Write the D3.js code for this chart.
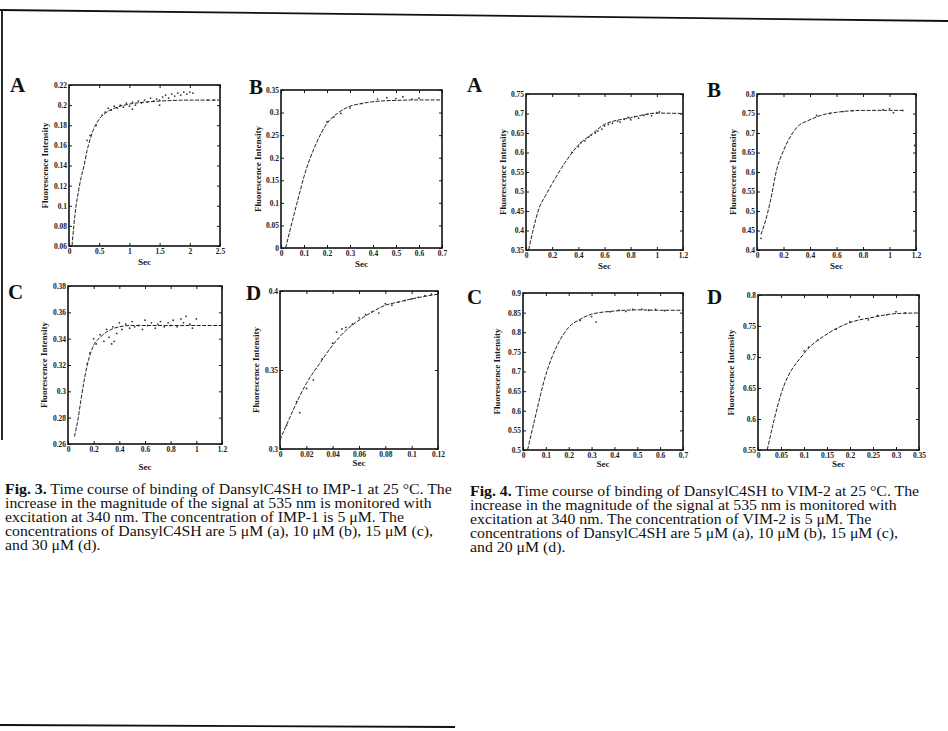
<!DOCTYPE html>
<html>
<head>
<meta charset="utf-8">
<script src="https://d3js.org/d3.v7.min.js"></script>
<style>
  body { margin: 0; background: #fff; }
  svg { display: block; }
  .tick text { font-family: "Liberation Serif", serif; font-size: 7.5px; font-weight: bold; fill: #1a1a1a; }
  .tick line { stroke: #1a1a1a; stroke-width: 1; }
  .frame { fill: none; stroke: #111; stroke-width: 1.6; }
  .fit { fill: none; stroke: #222; stroke-width: 1; stroke-dasharray: 4 1.5; }
  .pt { fill: #333; }
  .letter { font-family: "Liberation Serif", serif; font-size: 21px; font-weight: bold; fill: #111; }
  .axlab { font-family: "Liberation Serif", serif; font-size: 9px; font-weight: bold; fill: #1a1a1a; }
  .cap { font-family: "Liberation Serif", serif; font-size: 14px; fill: #111; }
  .border { stroke: #111; stroke-width: 1.8; fill: none; }
</style>
</head>
<body>
<svg id="page" width="948" height="731"></svg>
<script>
// ---- Fig. 3, IMP-1 ----
var impA_fit = [[0.05,0.06],[0.08,0.08],[0.1,0.092],[0.15,0.112],[0.2,0.128],[0.25,0.14],[0.3,0.155],[0.35,0.166],[0.4,0.175],[0.5,0.186],[0.6,0.192],[0.8,0.198],[1.0,0.201],[1.25,0.203],[1.5,0.204],[2.0,0.205],[2.5,0.205]];
var impA_pts = [[0.3,0.165],[0.35,0.17],[0.45,0.18],[0.55,0.19],[0.6,0.193],[0.65,0.197],[0.7,0.195],[0.75,0.199],[0.8,0.197],[0.85,0.2],[0.9,0.198],[0.95,0.202],[1.0,0.199],[1.05,0.203],[1.05,0.196],[1.1,0.2],[1.15,0.204],[1.2,0.202],[1.25,0.205],[1.3,0.203],[1.35,0.207],[1.4,0.204],[1.45,0.206],[1.5,0.205],[1.5,0.2],[1.55,0.208],[1.6,0.21],[1.65,0.207],[1.7,0.211],[1.75,0.209],[1.8,0.212],[1.85,0.21],[1.9,0.213],[1.95,0.211],[2.0,0.213],[2.05,0.212],[2.3,0.205],[2.4,0.205]];
var impB_fit = [[0.02,0],[0.05,0.061],[0.08,0.12],[0.1,0.158],[0.15,0.228],[0.2,0.276],[0.25,0.3],[0.3,0.314],[0.35,0.32],[0.4,0.324],[0.5,0.327],[0.6,0.328],[0.7,0.328]];
var impB_pts = [[0.2,0.28],[0.23,0.29],[0.26,0.298],[0.3,0.31],[0.35,0.32],[0.42,0.33],[0.46,0.333],[0.5,0.331],[0.53,0.335],[0.57,0.33],[0.6,0.332]];
var impC_fit = [[0.05,0.2656],[0.08,0.28],[0.1,0.293],[0.15,0.32],[0.2,0.335],[0.25,0.341],[0.3,0.345],[0.4,0.349],[0.5,0.35],[0.8,0.35],[1.2,0.35]];
var impC_pts = [[0.15,0.321],[0.17,0.329],[0.2,0.34],[0.22,0.336],[0.25,0.343],[0.28,0.338],[0.3,0.347],[0.32,0.341],[0.34,0.336],[0.35,0.349],[0.36,0.338],[0.38,0.344],[0.4,0.352],[0.42,0.347],[0.45,0.351],[0.48,0.348],[0.5,0.353],[0.52,0.349],[0.55,0.35],[0.58,0.347],[0.6,0.354],[0.62,0.35],[0.65,0.352],[0.68,0.348],[0.7,0.351],[0.72,0.353],[0.75,0.349],[0.78,0.352],[0.8,0.35],[0.82,0.354],[0.85,0.349],[0.88,0.355],[0.9,0.352],[0.92,0.357],[0.95,0.351],[0.97,0.348],[1.0,0.355]];
var impD_fit = [[0,0.3057],[0.01,0.3246],[0.02,0.3415],[0.03,0.354],[0.04,0.3657],[0.05,0.375],[0.06,0.3815],[0.07,0.3867],[0.08,0.391],[0.09,0.393],[0.1,0.395],[0.11,0.3966],[0.12,0.398]];
var impD_pts = [[0.005,0.315],[0.0126,0.33],[0.015,0.323],[0.0202,0.3383],[0.0253,0.3436],[0.032,0.357],[0.04,0.367],[0.043,0.374],[0.047,0.376],[0.05,0.377],[0.055,0.379],[0.06,0.383],[0.065,0.385],[0.07,0.387],[0.075,0.386],[0.08,0.392],[0.085,0.391],[0.09,0.393],[0.095,0.394],[0.1,0.395],[0.105,0.396],[0.11,0.397],[0.115,0.398]];

// ---- Fig. 4, VIM-2 ----
var vimA_fit = [[0.02,0.35],[0.05,0.395],[0.1,0.457],[0.15,0.49],[0.2,0.52],[0.3,0.575],[0.4,0.619],[0.5,0.646],[0.6,0.672],[0.8,0.689],[1.0,0.701],[1.2,0.7]];
var vimA_pts = [[0.35,0.6],[0.4,0.615],[0.42,0.625],[0.45,0.63],[0.48,0.64],[0.5,0.645],[0.53,0.65],[0.55,0.655],[0.58,0.66],[0.6,0.668],[0.63,0.672],[0.66,0.675],[0.7,0.68],[0.72,0.678],[0.75,0.685],[0.78,0.69],[0.8,0.684],[0.83,0.692],[0.86,0.688],[0.9,0.695],[0.93,0.698],[0.96,0.694],[1.0,0.702],[1.02,0.704]];
var vimB_fit = [[0.03,0.44],[0.06,0.47],[0.1,0.524],[0.15,0.608],[0.2,0.655],[0.3,0.714],[0.4,0.734],[0.5,0.747],[0.6,0.753],[0.8,0.758],[1.0,0.758],[1.1,0.758]];
var vimB_pts = [[0.03,0.43],[0.45,0.745],[0.55,0.75],[0.65,0.755],[0.72,0.757],[0.95,0.76],[1.0,0.762],[1.03,0.752],[1.1,0.758],[1.19,0.668]];
var vimC_fit = [[0.02,0.5],[0.05,0.575],[0.1,0.692],[0.15,0.767],[0.2,0.8125],[0.25,0.833],[0.3,0.846],[0.4,0.854],[0.5,0.857],[0.6,0.856],[0.7,0.856]];
var vimC_pts = [[0.25,0.83],[0.3,0.84],[0.32,0.826],[0.38,0.852],[0.42,0.856],[0.45,0.853],[0.48,0.858],[0.52,0.859],[0.55,0.856],[0.58,0.858],[0.62,0.855]];
var vimD_fit = [[0.02,0.55],[0.05,0.64],[0.1,0.7057],[0.15,0.737],[0.2,0.7555],[0.25,0.764],[0.3,0.77],[0.35,0.771]];
var vimD_pts = [[0.1,0.71],[0.11,0.716],[0.13,0.727],[0.17,0.745],[0.2,0.757],[0.22,0.765],[0.24,0.76],[0.26,0.767],[0.28,0.768],[0.3,0.773],[0.32,0.771]];

// tick values
var impA_xt = [0, 0.5, 1, 1.5, 2, 2.5], impA_yt = [0.06,0.08,0.1,0.12,0.14,0.16,0.18,0.2,0.22];
var impB_xt = [0,0.1,0.2,0.3,0.4,0.5,0.6,0.7], impB_yt = [0,0.05,0.1,0.15,0.2,0.25,0.3,0.35];
var impC_xt = [0,0.2,0.4,0.6,0.8,1,1.2], impC_yt = [0.26,0.28,0.3,0.32,0.34,0.36,0.38];
var impD_xt = [0,0.02,0.04,0.06,0.08,0.1,0.12], impD_yt = [0.3,0.35,0.4];
var vimA_xt = [0,0.2,0.4,0.6,0.8,1,1.2], vimA_yt = [0.35,0.4,0.45,0.5,0.55,0.6,0.65,0.7,0.75];
var vimB_xt = [0,0.2,0.4,0.6,0.8,1,1.2], vimB_yt = [0.4,0.45,0.5,0.55,0.6,0.65,0.7,0.75,0.8];
var vimC_xt = [0,0.1,0.2,0.3,0.4,0.5,0.6,0.7], vimC_yt = [0.5,0.55,0.6,0.65,0.7,0.75,0.8,0.85,0.9];
var vimD_xt = [0,0.05,0.1,0.15,0.2,0.25,0.3,0.35], vimD_yt = [0.55,0.6,0.65,0.7,0.75,0.8];

var fig3Lines = [
  ["Fig. 3.", " Time course of binding of DansylC4SH to IMP-1 at 25 °C. The"],
  ["", "increase in the magnitude of the signal at 535 nm is monitored with"],
  ["", "excitation at 340 nm. The concentration of IMP-1 is 5 μM. The"],
  ["", "concentrations of DansylC4SH are 5 μM (a), 10 μM (b), 15 μM (c),"],
  ["", "and 30 μM (d)."]
];
var fig4Lines = [
  ["Fig. 4.", " Time course of binding of DansylC4SH to VIM-2 at 25 °C. The"],
  ["", "increase in the magnitude of the signal at 535 nm is monitored with"],
  ["", "excitation at 340 nm. The concentration of VIM-2 is 5 μM. The"],
  ["", "concentrations of DansylC4SH are 5 μM (a), 10 μM (b), 15 μM (c),"],
  ["", "and 20 μM (d)."]
];

// layout of each panel (box = left, top, right, bottom)
var panels = [
  {L:"A", lx:10,  ly:92,  box:[69,85,220,246],  xd:[0,2.5],  yd:[0.06,0.22], xt:impA_xt, yt:impA_yt, fit:impA_fit, pts:impA_pts, secDy:19, ylOff:21},
  {L:"B", lx:249, ly:94,  box:[281,90,442,248], xd:[0,0.7],  yd:[0,0.35],    xt:impB_xt, yt:impB_yt, fit:impB_fit, pts:impB_pts, secDy:19, ylOff:20},
  {L:"C", lx:8,   ly:299, box:[68,286,222,444], xd:[0,1.2],  yd:[0.26,0.38], xt:impC_xt, yt:impC_yt, fit:impC_fit, pts:impC_pts, secDy:26, ylOff:21},
  {L:"D", lx:246, ly:300, box:[280,291,438,449],xd:[0,0.12], yd:[0.3,0.4],   xt:impD_xt, yt:impD_yt, fit:impD_fit, pts:impD_pts, secDy:17, ylOff:21},
  {L:"A", lx:467, ly:92,  box:[526,94,683,250], xd:[0,1.2],  yd:[0.35,0.75], xt:vimA_xt, yt:vimA_yt, fit:vimA_fit, pts:vimA_pts, secDy:19, ylOff:20},
  {L:"B", lx:707, ly:97,  box:[757,94,916,250], xd:[0,1.2],  yd:[0.4,0.8],   xt:vimB_xt, yt:vimB_yt, fit:vimB_fit, pts:vimB_pts, secDy:19, ylOff:21},
  {L:"C", lx:467, ly:304, box:[523,293,683,450],xd:[0,0.7],  yd:[0.5,0.9],   xt:vimC_xt, yt:vimC_yt, fit:vimC_fit, pts:vimC_pts, secDy:17, ylOff:23},
  {L:"D", lx:707, ly:304, box:[758,295,919,450],xd:[0,0.35], yd:[0.55,0.8],  xt:vimD_xt, yt:vimD_yt, fit:vimD_fit, pts:vimD_pts, secDy:17, ylOff:24}
];

var svg = d3.select("#page");
var fmt = d3.format("~g");

// page border from the scan
svg.append("line").attr("class", "border").attr("x1", 0).attr("y1", 10).attr("x2", 948).attr("y2", 21);
svg.append("line").attr("class", "border").attr("x1", 2).attr("y1", 10).attr("x2", 2).attr("y2", 440);
svg.append("line").attr("class", "border").attr("x1", 0).attr("y1", 725).attr("x2", 455).attr("y2", 727);

panels.forEach(function(p) {
  var l = p.box[0], t = p.box[1], r = p.box[2], b = p.box[3];
  var x = d3.scaleLinear().domain(p.xd).range([l, r]);
  var y = d3.scaleLinear().domain(p.yd).range([b, t]);
  var g = svg.append("g");

  g.append("g").attr("transform", "translate(0," + b + ")")
    .call(d3.axisBottom(x).tickValues(p.xt).tickSize(-3).tickPadding(3).tickFormat(fmt));
  g.append("g").attr("transform", "translate(0," + t + ")")
    .call(d3.axisTop(x).tickValues(p.xt).tickSize(-3).tickFormat(""));
  g.append("g").attr("transform", "translate(" + l + ",0)")
    .call(d3.axisLeft(y).tickValues(p.yt).tickSize(-3).tickPadding(2).tickFormat(fmt));
  g.append("g").attr("transform", "translate(" + r + ",0)")
    .call(d3.axisRight(y).tickValues(p.yt).tickSize(-3).tickFormat(""));
  g.selectAll(".domain").remove();

  g.append("rect").attr("class", "frame")
    .attr("x", l).attr("y", t).attr("width", r - l).attr("height", b - t);

  var line = d3.line().curve(d3.curveMonotoneX)
    .x(function(d) { return x(d[0]); })
    .y(function(d) { return y(d[1]); });
  g.append("path").attr("class", "fit").attr("d", line(p.fit));

  g.selectAll("circle.pt").data(p.pts).enter().append("circle")
    .attr("class", "pt")
    .attr("cx", function(d) { return x(d[0]); })
    .attr("cy", function(d) { return y(d[1]); })
    .attr("r", 0.9);

  g.append("text").attr("class", "letter").attr("x", p.lx).attr("y", p.ly).text(p.L);

  g.append("text").attr("class", "axlab")
    .attr("transform", "translate(" + (l - p.ylOff) + "," + ((t + b) / 2) + ") rotate(-90)")
    .attr("text-anchor", "middle").text("Fluorescence Intensity");
  g.append("text").attr("class", "axlab")
    .attr("x", (l + r) / 2).attr("y", b + p.secDy)
    .attr("text-anchor", "middle").text("Sec");
});

function caption(lines, x0, y0) {
  var g = svg.append("g").attr("transform", "translate(" + x0 + ",0) scale(1.13,1)");
  lines.forEach(function(ln, i) {
    var tx = g.append("text").attr("class", "cap").attr("x", 0).attr("y", y0 + i * 14);
    if (ln[0]) tx.append("tspan").attr("font-weight", "bold").text(ln[0]);
    tx.append("tspan").text(ln[1]);
  });
}
caption(fig3Lines, 5, 494);
caption(fig4Lines, 470, 496);
</script>
</body>
</html>
